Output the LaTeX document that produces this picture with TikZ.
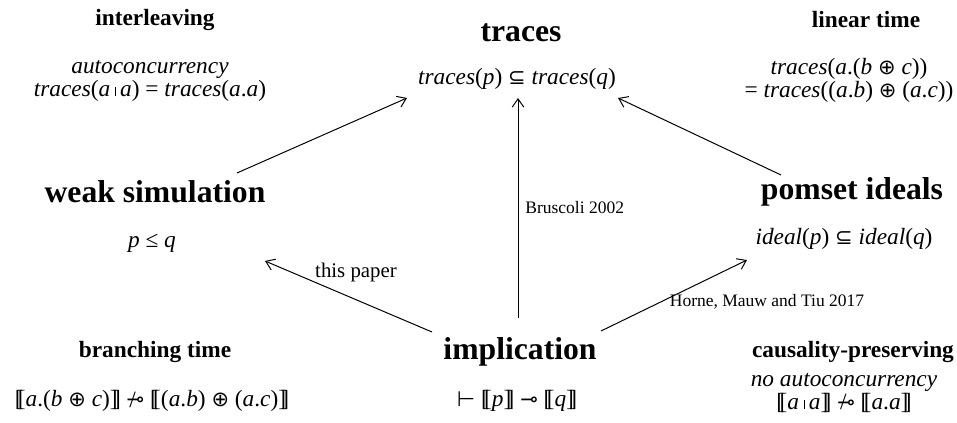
\documentclass[tikz,border=0pt]{standalone}
\usepackage{fontspec}
\setmainfont{Liberation Serif}
\newfontfamily\symf{DejaVu Sans}
\usetikzlibrary{arrows.meta,calc}
\newcommand{\I}[1]{\textit{#1}}
\newcommand{\sy}[1]{{\symf\fontsize{0.9em}{1em}\selectfont #1}}
\newcommand{\lb}{[\kern-0.2em[}
\newcommand{\rb}{]\kern-0.2em]}
\newcommand{\parbar}{\kern0.2em\rule[0.05ex]{0.35pt}{0.85ex}\kern0.2em}
\newcommand{\lolli}{\sy{⊸}}
\newcommand{\nlolli}{\ooalign{\sy{⊸}\cr\kern0.12em\raisebox{-0.05ex}{/}\cr}}
\begin{document}
\begin{tikzpicture}[x=0.6pt,y=-0.6pt,
  bighead/.style={font=\fontsize{19}{22}\selectfont\bfseries, inner sep=0pt},
  smallhead/.style={font=\fontsize{14}{16}\selectfont\bfseries, inner sep=0pt},
  formula/.style={font=\fontsize{14}{12.6}\selectfont, inner sep=0pt, align=center},
  lbl/.style={font=\fontsize{10.5}{12}\selectfont, inner sep=0pt},
  arr/.style={-{Straight Barb[length=5pt,width=7pt]}, line width=0.6pt}]
\useasboundingbox (0,0) rectangle (957,423);
% top left
\node[smallhead] (il) at (155,20) {interleaving};
\node[formula] (ilf) at (150,81) {\I{autoconcurrency}\\ \I{traces}(\I{a}\parbar\I{a}) = \I{traces}(\I{a}.\I{a})};
% top centre
\node[bighead] (tr) at (521,33) {traces};
\node[formula] (trf) at (517,79) {\I{traces}(\I{p}) \sy{⊆} \I{traces}(\I{q})};
% top right
\node[smallhead] (lt) at (866,20) {linear time};
\node[formula] (ltf) at (849,80) {\I{traces}(\I{a}.(\I{b} \sy{⊕} \I{c}))\\ = \I{traces}((\I{a}.\I{b}) \sy{⊕} (\I{a}.\I{c}))};
% middle left
\node[bighead] (ws) at (155,192) {weak simulation};
\node[formula] (wsf) at (152,243) {\I{p} ≤ \I{q}};
% middle right
\node[bighead] (pi) at (852,192) {pomset ideals};
\node[formula] (pif) at (844,239) {\I{ideal}(\I{p}) \sy{⊆} \I{ideal}(\I{q})};
% bottom centre
\node[bighead] (im) at (520,352) {implication};
\node[formula] (imf) at (517,401) {\sy{⊢} \lb\I{p}\rb{} \lolli{} \lb\I{q}\rb};
% bottom left
\node[smallhead] (bt) at (155,352) {branching time};
\node[formula] (btf) at (152,401) {\lb\I{a}.(\I{b} \sy{⊕} \I{c})\rb{} \nlolli{} \lb(\I{a}.\I{b}) \sy{⊕} (\I{a}.\I{c})\rb};
% bottom right
\node[smallhead] (cp) at (853,352) {causality-preserving};
\node[formula] (cpf) at (844,393) {\I{no autoconcurrency}\\ \lb\I{a}\parbar\I{a}\rb{} \nlolli{} \lb\I{a}.\I{a}\rb};
% arrows
\draw[arr] ($(ws)+(82,-19)$) -- ($(trf)+(-110,19)$);
\draw[arr] ($(im)+(-2,-34)$) -- ($(trf)+(1,19)$);
\draw[arr] ($(pi)+(-71,-17)$) -- ($(trf)+(101,19)$);
\draw[arr] ($(im)+(-88,-20)$) -- ($(wsf)+(113,18)$);
\draw[arr] ($(im)+(81,-21)$) -- ($(pif)+(-97,21)$);
\node[lbl, font=\fontsize{12.5}{14}\selectfont] (tp) at (356,272) {this paper};
\node[lbl, anchor=west] (br) at (525,208) {Bruscoli 2002};
\node[lbl] (hmt) at (767,302) {Horne, Mauw and Tiu 2017};
\end{tikzpicture}
\end{document}
